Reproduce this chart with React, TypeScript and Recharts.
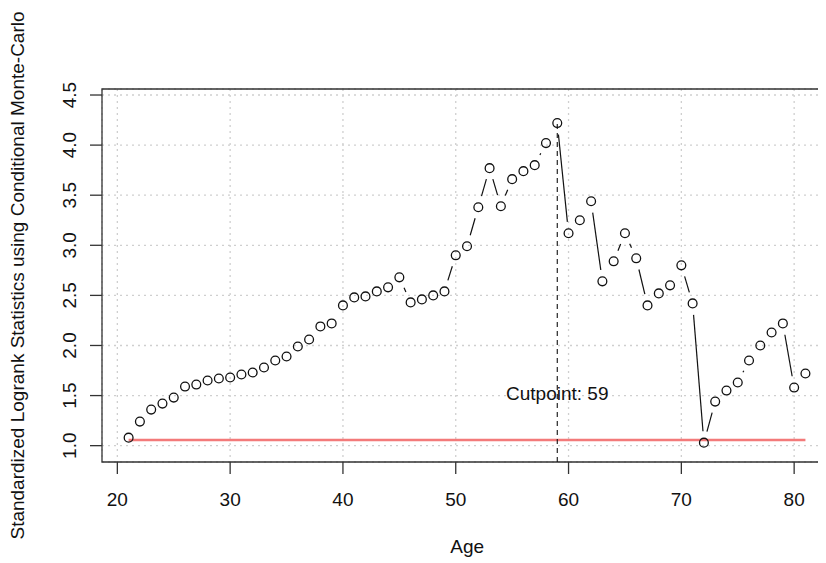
import React from 'react';
import {
  ComposedChart,
  Scatter,
  XAxis,
  YAxis,
  CartesianGrid,
  ReferenceLine,
  ReferenceArea,
  ReferenceDot,
} from 'recharts';

// ---------------- data ----------------
const ages = [
  21, 22, 23, 24, 25, 26, 27, 28, 29, 30,
  31, 32, 33, 34, 35, 36, 37, 38, 39, 40,
  41, 42, 43, 44, 45, 46, 47, 48, 49, 50,
  51, 52, 53, 54, 55, 56, 57, 58, 59, 60,
  61, 62, 63, 64, 65, 66, 67, 68, 69, 70,
  71, 72, 73, 74, 75, 76, 77, 78, 79, 80,
  81,
];
const stats = [
  1.08, 1.24, 1.36, 1.42, 1.48, 1.59, 1.61, 1.65, 1.67, 1.68,
  1.71, 1.73, 1.78, 1.85, 1.89, 1.99, 2.06, 2.19, 2.22, 2.40,
  2.48, 2.49, 2.54, 2.58, 2.68, 2.43, 2.46, 2.50, 2.54, 2.90,
  2.99, 3.38, 3.77, 3.39, 3.66, 3.74, 3.80, 4.02, 4.22, 3.12,
  3.25, 3.44, 2.64, 2.84, 3.12, 2.87, 2.40, 2.52, 2.60, 2.80,
  2.42, 1.03, 1.44, 1.55, 1.63, 1.85, 2.00, 2.13, 2.22, 1.58,
  1.72,
];
const xTicks = [20, 30, 40, 50, 60, 70, 80];
const yTicks = [1.0, 1.5, 2.0, 2.5, 3.0, 3.5, 4.0, 4.5];
const thresholdValue = 1.057;
const cutpoint = 59;
const cutpointLabel = 'Cutpoint: 59';
const cutpointLabelY = 1.526;
const xLabel = 'Age';
const yLabel = 'Standardized Logrank Statistics using Conditional Monte-Carlo';

// ---------------- layout ----------------
const W = 840;
const H = 555;
const MARGIN = { top: 81, right: 15.5, bottom: 41, left: 34 };
const Y_AXIS_W = 60;
const X_AXIS_H = 60;
const X_DOMAIN: [number, number] = [18.64, 83.4];
const Y_DOMAIN: [number, number] = [0.837, 4.56];
const PLOT_W = W - MARGIN.left - MARGIN.right - Y_AXIS_W;
const PLOT_H = H - MARGIN.top - MARGIN.bottom - X_AXIS_H;
const PLOT_LEFT = MARGIN.left + Y_AXIS_W;
const PLOT_TOP = MARGIN.top;
const PLOT_BOTTOM = MARGIN.top + PLOT_H;
const PX_X = PLOT_W / (X_DOMAIN[1] - X_DOMAIN[0]);
const PX_Y = PLOT_H / (Y_DOMAIN[1] - Y_DOMAIN[0]);
const GAP = 11.5; // R type="b" gap around points, in px
const FONT = 'Liberation Sans, Arial, Helvetica, sans-serif';
const TEXT = '#111';

const points = ages.map((a, i) => ({ age: a, stat: stats[i] }));

// segments with gaps around each point (like R's type = "b")
const segments: { x1: number; y1: number; x2: number; y2: number }[] = [];
for (let i = 0; i < points.length - 1; i++) {
  const p = points[i];
  const q = points[i + 1];
  const dxp = (q.age - p.age) * PX_X;
  const dyp = (q.stat - p.stat) * PX_Y;
  const len = Math.hypot(dxp, dyp);
  if (len <= 2 * GAP) continue;
  const f = GAP / len;
  segments.push({
    x1: p.age + f * (q.age - p.age),
    y1: p.stat + f * (q.stat - p.stat),
    x2: q.age - f * (q.age - p.age),
    y2: q.stat - f * (q.stat - p.stat),
  });
}

const OpenCircle = (props: any) => {
  const { cx, cy } = props;
  if (cx == null || cy == null) return null;
  return <circle cx={cx} cy={cy} r={4.4} fill="none" stroke="#111" strokeWidth={1.3} />;
};

const XTick = (props: any) => {
  const { x, payload } = props;
  return (
    <text x={x} y={PLOT_BOTTOM + 44} textAnchor="middle" fontFamily={FONT} fontSize={19} fill={TEXT}>
      {String(payload.value)}
    </text>
  );
};

const YTick = (props: any) => {
  const { y, payload } = props;
  const bx = PLOT_LEFT - 26;
  return (
    <text
      x={bx}
      y={y}
      transform={`rotate(-90, ${bx}, ${y})`}
      textAnchor="middle"
      fontFamily={FONT}
      fontSize={19}
      fill={TEXT}
    >
      {Number(payload.value).toFixed(1)}
    </text>
  );
};

const XTitle = () => (
  <text
    x={PLOT_LEFT + PLOT_W / 2}
    y={PLOT_BOTTOM + 91}
    textAnchor="middle"
    fontFamily={FONT}
    fontSize={19}
    fill={TEXT}
  >
    {xLabel}
  </text>
);

const YTitle = () => {
  const bx = 15.5;
  const cy = PLOT_TOP + PLOT_H / 2;
  return (
    <text
      x={bx}
      y={cy}
      transform={`rotate(-90, ${bx}, ${cy})`}
      textAnchor="middle"
      fontFamily={FONT}
      fontSize={19}
      fill={TEXT}
    >
      {yLabel}
    </text>
  );
};

export default function App() {
  return (
    <div style={{ width: 818, height: 555, overflow: 'hidden', background: '#fff' }}>
      <ComposedChart width={W} height={H} data={points} margin={MARGIN}>
        <CartesianGrid stroke="#cfcfcf" strokeDasharray="2 4" strokeWidth={1.3} />
        <XAxis
          dataKey="age"
          type="number"
          domain={X_DOMAIN}
          ticks={xTicks}
          allowDataOverflow
          height={X_AXIS_H}
          axisLine={false}
          tickSize={12}
          tickLine={{ stroke: '#333', strokeWidth: 1.3 }}
          tick={<XTick />}
          label={{ content: () => <XTitle /> }}
        />
        <YAxis
          type="number"
          domain={Y_DOMAIN}
          ticks={yTicks}
          allowDataOverflow
          width={Y_AXIS_W}
          axisLine={false}
          tickSize={12}
          tickLine={{ stroke: '#333', strokeWidth: 1.3 }}
          tick={<YTick />}
          label={{ content: () => <YTitle /> }}
        />
        <ReferenceArea
          x1={X_DOMAIN[0]}
          x2={X_DOMAIN[1]}
          y1={Y_DOMAIN[0]}
          y2={Y_DOMAIN[1]}
          fill="none"
          stroke="#333"
          strokeWidth={1.3}
          ifOverflow="visible"
        />
        <ReferenceLine
          segment={[{ x: ages[0], y: thresholdValue }, { x: ages[ages.length - 1], y: thresholdValue }]}
          stroke="#f37a7a"
          strokeWidth={2.4}
          ifOverflow="visible"
        />
        <ReferenceLine
          segment={[{ x: cutpoint, y: Y_DOMAIN[0] }, { x: cutpoint, y: stats[ages.indexOf(cutpoint)] }]}
          stroke="#111"
          strokeWidth={1.1}
          strokeDasharray="5 4"
          ifOverflow="visible"
        />
        {segments.map((s, i) => (
          <ReferenceLine
            key={`seg-${i}`}
            segment={[{ x: s.x1, y: s.y1 }, { x: s.x2, y: s.y2 }]}
            stroke="#111"
            strokeWidth={1.2}
            ifOverflow="visible"
          />
        ))}
        <ReferenceDot
          x={cutpoint}
          y={cutpointLabelY}
          r={0}
          fill="none"
          stroke="none"
          ifOverflow="visible"
          label={{ value: cutpointLabel, position: 'center', fontSize: 19, fill: TEXT, fontFamily: FONT }}
        />
        <Scatter dataKey="stat" shape={<OpenCircle />} isAnimationActive={false} />
      </ComposedChart>
    </div>
  );
}
